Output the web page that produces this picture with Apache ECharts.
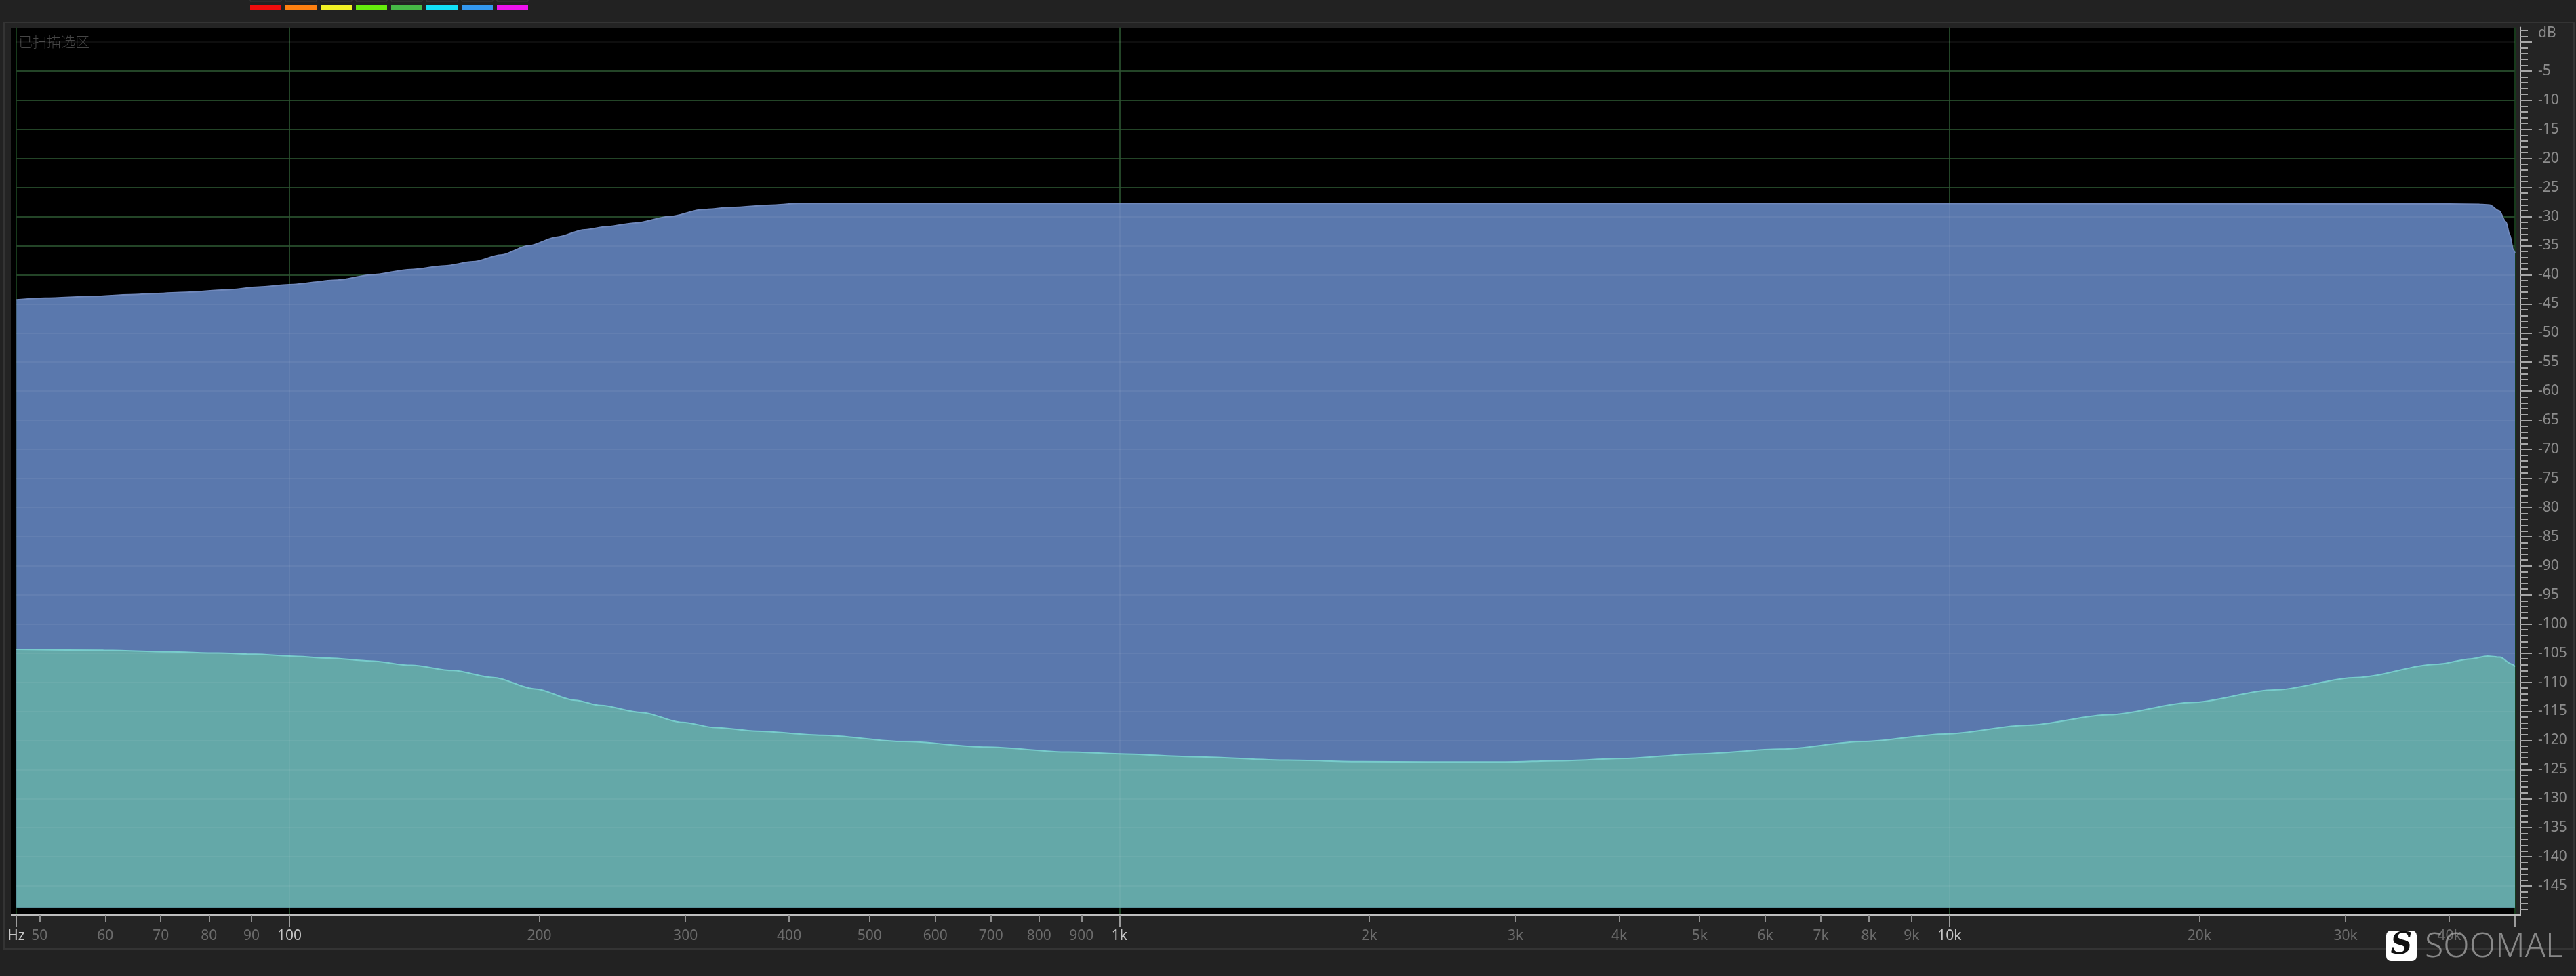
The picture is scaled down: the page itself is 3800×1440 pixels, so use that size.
<!DOCTYPE html>
<html><head><meta charset="utf-8">
<script src="https://cdn.jsdelivr.net/npm/echarts@6/dist/echarts.min.js"></script>
<style>html,body{margin:0;padding:0;background:#222;overflow:hidden}#c{width:3800px;height:1440px}</style>
</head><body><div id="c"></div>
<script>
// ---- data (frequency in Hz, level in dB) ----
const signalFreq = [46.9, 50.8, 58.1, 64.3, 69.4, 75.1, 83.8, 91.9, 100, 114.3, 125.6, 140, 153.8, 166.4, 179.8, 194.2, 210.1, 227, 241.9, 261.3, 287.1, 314.8, 340.6, 385.6, 410.3, 1000, 5000, 20000, 40000, 43500, 44730, 45920, 46800, 47300, 47780, 48000];
const signalDb   = [-44.3, -44.0, -43.7, -43.4, -43.2, -43.0, -42.6, -42.1, -41.7, -40.9, -40.0, -39.1, -38.45, -37.75, -36.6, -35.0, -33.5, -32.25, -31.7, -31.1, -30.0, -28.8, -28.45, -28.0, -27.75, -27.75, -27.75, -27.8, -27.85, -27.9, -28.0, -29.0, -30.9, -33.1, -35.7, -36.3];
const noiseFreq  = [46.9, 59.7, 71.5, 82.1, 91.0, 100, 111.7, 125.1, 140.3, 157.3, 176.1, 197.5, 221.1, 237, 265.3, 297.5, 326.2, 365.1, 438.1, 550.1, 691.8, 868.6, 1000, 1223, 1597, 1960, 2352, 2920, 3386, 4064, 4989, 6263, 7862, 9888, 12414, 15586, 19563, 24604, 30886, 38774, 42442, 44478, 46016, 47600, 48000];
const noiseDb    = [-104.35, -104.5, -104.8, -105.0, -105.2, -105.5, -105.85, -106.35, -107.1, -108.0, -109.2, -111.15, -113.1, -114.0, -115.2, -116.9, -117.8, -118.4, -119.1, -120.2, -121.15, -122.0, -122.3, -122.8, -123.4, -123.65, -123.7, -123.7, -123.5, -123.1, -122.3, -121.5, -120.2, -118.9, -117.4, -115.6, -113.5, -111.35, -109.2, -106.9, -106.0, -105.5, -105.7, -106.9, -107.3];

// ---- axis ticks / labels ----
const X_MIN = 46.875, X_MAX = 48000;
const Y_MIN = -150, Y_MAX = 2.5, FLOOR_DB = -148.7;
const xLabelValues = [46.875, 50, 60, 70, 80, 90, 100, 200, 300, 400, 500, 600, 700, 800, 900, 1000, 2000, 3000, 4000, 5000, 6000, 7000, 8000, 9000, 10000, 20000, 30000, 40000];
const xLabelTexts  = ['Hz', '50', '60', '70', '80', '90', '100', '200', '300', '400', '500', '600', '700', '800', '900', '1k', '2k', '3k', '4k', '5k', '6k', '7k', '8k', '9k', '10k', '20k', '30k', '40k'];
const xMajorLabels = ['Hz', '100', '1k', '10k'];
const xMajorTicks  = [46.875, 100, 1000, 10000, 48000];
const xMinorTicks  = [50, 60, 70, 80, 90, 200, 300, 400, 500, 600, 700, 800, 900, 2000, 3000, 4000, 5000, 6000, 7000, 8000, 9000, 20000, 30000, 40000];
const yMajorTicks  = [-145, -140, -135, -130, -125, -120, -115, -110, -105, -100, -95, -90, -85, -80, -75, -70, -65, -60, -55, -50, -45, -40, -35, -30, -25, -20, -15, -10, -5, 0];
const yLabelValues = [-145, -140, -135, -130, -125, -120, -115, -110, -105, -100, -95, -90, -85, -80, -75, -70, -65, -60, -55, -50, -45, -40, -35, -30, -25, -20, -15, -10, -5, 1.5];
const yLabelTexts  = ['-145', '-140', '-135', '-130', '-125', '-120', '-115', '-110', '-105', '-100', '-95', '-90', '-85', '-80', '-75', '-70', '-65', '-60', '-55', '-50', '-45', '-40', '-35', '-30', '-25', '-20', '-15', '-10', '-5', 'dB'];
const yMinorTicks  = [];
for (let v = -149; v <= 2; v++) if (v % 5 !== 0) yMinorTicks.push(v);
const barColors = ['#f00c0c', '#ff8010', '#f2f224', '#66ee0c', '#46b846', '#12e0f6', '#3398f0', '#ee12ee'];

const FONT = '"Noto Sans", "Open Sans", sans-serif';
function nearestIdx(arr, v, logScale) {
  let best = 0, bd = Infinity;
  arr.forEach((a, i) => { const d = logScale ? Math.abs(Math.log(a) - Math.log(v)) : Math.abs(a - v); if (d < bd) { bd = d; best = i; } });
  return best;
}

const chart = echarts.init(document.getElementById('c'), null, {renderer: 'canvas'});
const gridGreen = '#173a1b';
const overlayLine = 'rgba(255,255,255,0.055)';

const graphics = [
  {type: 'rect', z: -20, shape: {x: 6, y: 33, width: 3791, height: 1367}, style: {fill: '#242424', stroke: '#343434', lineWidth: 2}},
  {type: 'rect', z: -10, shape: {x: 16, y: 41, width: 3694, height: 1309}, style: {fill: '#000000'}},
  {type: 'line', z: 5, shape: {x1: 16, y1: 1350, x2: 24, y2: 1350}, style: {stroke: '#bdbdbd', lineWidth: 2}},
  {type: 'line', z: 5, shape: {x1: 3709, y1: 1350, x2: 3719, y2: 1350}, style: {stroke: '#bdbdbd', lineWidth: 2}},
  {type: 'text', z: 5, x: 27, y: 51, style: {text: '已扫描选区', fill: '#454545', font: '300 21px "Noto Sans CJK SC"'}},
  // logo
  {type: 'rect', z: 20, shape: {x: 3520, y: 1373, width: 45, height: 45, r: 7}, style: {fill: '#ffffff'}},
  {type: 'text', z: 21, x: 3542.5, y: 1396, style: {text: 'S', fill: '#111', font: 'italic bold 44px "DejaVu Serif"', align: 'center', verticalAlign: 'middle'}},
  {type: 'text', z: 20, x: 3577, y: 1398, style: {text: 'SOOMAL', fill: 'rgba(170,170,170,0.75)', font: '300 50px "Noto Sans", sans-serif', verticalAlign: 'middle'}}
];
barColors.forEach((c, i) => {
  graphics.push({type: 'rect', z: 1, shape: {x: 369 + 52 * i, y: -6, width: 46, height: 8}, style: {fill: '#262626', stroke: '#3a3a3a', lineWidth: 1}});
  graphics.push({type: 'rect', z: 1, shape: {x: 369 + 52 * i, y: 7, width: 46, height: 8}, style: {fill: c}});
});

const option = {
  animation: false,
  backgroundColor: '#222222',
  grid: {left: 24, right: 90, top: 40.5, bottom: 90, containLabel: false},
  graphic: graphics,
  xAxis: [
    { // data axis: edges + decades (long ticks + green grid)
      type: 'log', logBase: 10, min: X_MIN, max: X_MAX, position: 'bottom', gridIndex: 0,
      axisLine: {show: true, onZero: false, lineStyle: {color: '#bdbdbd', width: 2}},
      axisTick: {show: true, customValues: xMajorTicks, length: 17, lineStyle: {color: '#9c9c9c', width: 2}},
      axisLabel: {show: false},
      splitLine: {show: true, lineStyle: {color: gridGreen, width: 2}},
      minorTick: {show: false}, minorSplitLine: {show: false}
    },
    { // minor ticks and all labels
      type: 'log', logBase: 10, min: X_MIN, max: X_MAX, position: 'bottom', gridIndex: 0,
      axisLine: {show: false, onZero: false},
      axisTick: {show: true, customValues: xMinorTicks, length: 10, lineStyle: {color: '#8e8e8e', width: 2}},
      axisLabel: {
        show: true, customValues: xLabelValues, margin: 21, fontFamily: FONT, fontSize: 21,
        formatter: (v) => {
          const t = xLabelTexts[nearestIdx(xLabelValues, v, true)];
          return xMajorLabels.indexOf(t) >= 0 ? '{maj|' + t + '}' : '{mn|' + t + '}';
        },
        rich: {
          maj: {color: '#c6c6c6', fontSize: 21, fontFamily: FONT},
          mn: {color: '#6c6c6c', fontSize: 21, fontFamily: FONT}
        }
      },
      splitLine: {show: false}
    },
    { // faint grid overlay on top of fills
      type: 'log', logBase: 10, min: X_MIN, max: X_MAX, position: 'bottom', gridIndex: 0, z: 10,
      axisLine: {show: false, onZero: false}, axisTick: {show: false}, axisLabel: {show: false},
      splitLine: {show: true, showMinLine: false, showMaxLine: false, lineStyle: {color: overlayLine, width: 2}}
    }
  ],
  yAxis: [
    { // data axis: long ticks, labels, green grid
      type: 'value', min: Y_MIN, max: Y_MAX, interval: 5, position: 'right', offset: 8, gridIndex: 0,
      axisLine: {show: true, onZero: false, lineStyle: {color: '#bdbdbd', width: 2}},
      axisTick: {show: true, customValues: yMajorTicks, length: 17, lineStyle: {color: '#a6a6a6', width: 2}},
      axisLabel: {
        show: true, customValues: yLabelValues, margin: 26, fontFamily: FONT, fontSize: 21, color: '#8c8c8c', align: 'left',
        formatter: (v) => yLabelTexts[nearestIdx(yLabelValues, v, false)]
      },
      splitLine: {show: true, showMinLine: false, showMaxLine: false, lineStyle: {color: gridGreen, width: 2}}
    },
    { // 1 dB minor ticks
      type: 'value', min: Y_MIN, max: Y_MAX, interval: 5, position: 'right', offset: 8, gridIndex: 0,
      axisLine: {show: false, onZero: false},
      axisTick: {show: true, customValues: yMinorTicks, length: 11, lineStyle: {color: '#a6a6a6', width: 2}},
      axisLabel: {show: false}, splitLine: {show: false}
    },
    { // faint grid overlay
      type: 'value', min: Y_MIN, max: Y_MAX, interval: 5, position: 'right', offset: 8, gridIndex: 0, z: 10,
      axisLine: {show: false, onZero: false}, axisTick: {show: false}, axisLabel: {show: false},
      splitLine: {show: true, showMinLine: false, showMaxLine: false, lineStyle: {color: overlayLine, width: 2}}
    }
  ],
  series: [
    {
      type: 'line', name: 'signal', xAxisIndex: 0, yAxisIndex: 0, z: 2,
      data: signalFreq.map((f, i) => [f, signalDb[i]]),
      showSymbol: false, smooth: 0.3, smoothMonotone: 'x',
      lineStyle: {color: '#7088bb', width: 2},
      areaStyle: {color: '#5a78ad', opacity: 1, origin: FLOOR_DB}
    },
    {
      type: 'line', name: 'noise', xAxisIndex: 0, yAxisIndex: 0, z: 3,
      data: noiseFreq.map((f, i) => [f, noiseDb[i]]),
      showSymbol: false, smooth: 0.3, smoothMonotone: 'x',
      lineStyle: {color: '#78cccc', width: 2},
      areaStyle: {color: '#64a8a8', opacity: 1, origin: FLOOR_DB}
    }
  ]
};
chart.setOption(option);
</script>
</body></html>
